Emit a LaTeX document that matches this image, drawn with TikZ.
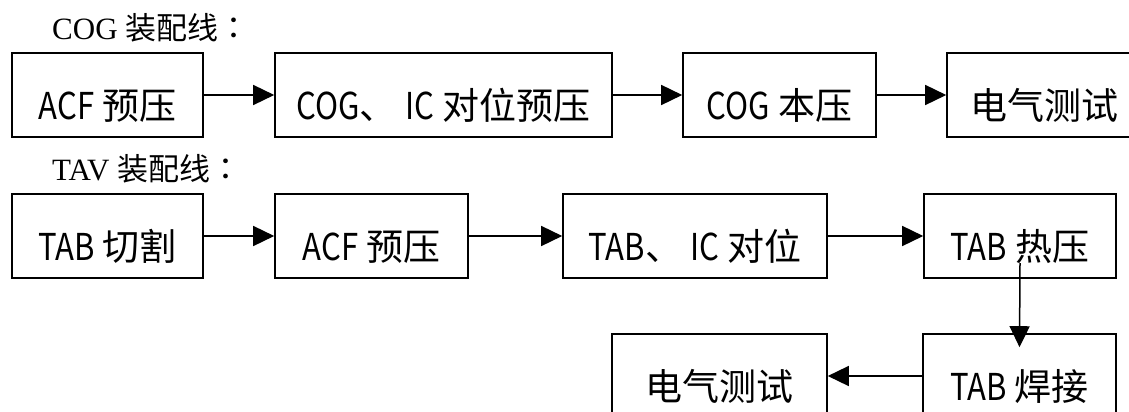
\documentclass[tikz,border=0pt]{standalone}
\usepackage{fontspec}
\setmainfont{Liberation Serif}
\newfontfamily\cjk{Noto Sans CJK SC}
\newfontfamily\cjktc{Noto Sans CJK TC}
\newfontfamily\latc[FakeStretch=0.84]{Noto Sans CJK SC}
\newcommand{\lt}[1]{{\latc #1}}
\usetikzlibrary{arrows.meta,calc}
\tikzset{
  stepbox/.style={draw, line width=1.6pt, inner sep=0pt, minimum height=84pt,
    text height=48pt, text depth=0pt, font=\cjk\fontsize{37}{40}\selectfont},
  conn/.style={line width=1.5pt, -{Triangle[length=21pt,width=20pt]}},
  linelabel/.style={anchor=base west, inner sep=0pt, font=\fontsize{31}{34}\selectfont}
}
\begin{document}
\begin{tikzpicture}[x=1pt,y=-1pt]
\clip (0,0) rectangle (1129,412);
\fill[white] (0,0) rectangle (1129,412);
% labels
\node[linelabel] (l1) at (52,40) {COG {\cjk 装配线}{\cjktc ：}};
\node[linelabel] (l2) at (52,180) {TAV {\cjk 装配线}{\cjktc ：}};
% row 1
\node[stepbox, minimum width=191pt] (a1) at (107.5,95) {\lt{ACF} 预压};
\node[stepbox, minimum width=337pt] (a2) at (443.5,95) {\lt{COG}、 \lt{IC} 对位预压};
\node[stepbox, minimum width=193pt] (a3) at (779.5,95) {\lt{COG} 本压};
\node[stepbox, minimum width=195pt] (a4) at (1044.5,95) {电气测试};
% row 2
\node[stepbox, minimum width=191pt] (b1) at (107.5,236) {\lt{TAB} 切割};
\node[stepbox, minimum width=193pt] (b2) at (371.5,236) {\lt{ACF} 预压};
\node[stepbox, minimum width=264pt] (b3) at (695,236) {\lt{TAB}、 \lt{IC} 对位};
\node[stepbox, minimum width=192pt] (b4) at (1020,236) {\lt{TAB} 热压};
% row 3
\node[stepbox, minimum width=215pt] (c1) at (719.5,376) {电气测试};
\node[stepbox, minimum width=193pt] (c2) at (1019.5,376) {\lt{TAB} 焊接};
% connectors
\draw[conn] (a1) -- (a2);
\draw[conn] (a2) -- (a3);
\draw[conn] (a3) -- (a4);
\draw[conn] (b1) -- (b2);
\draw[conn] (b2) -- (b3);
\draw[conn] (b3) -- (b4);
\coordinate (v1) at ($(b4.center)+(0,27)$);
\coordinate (v2) at ($(c2.north)+(0,14)$);
\draw[conn] (v1) -- (v2);
\draw[conn] (c2) -- (c1);
\end{tikzpicture}
\end{document}
